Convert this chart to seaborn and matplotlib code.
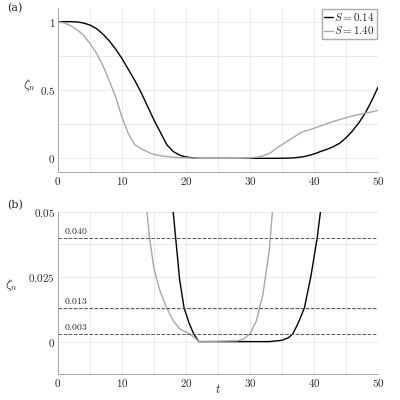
import matplotlib
matplotlib.use("Agg")
import matplotlib.pyplot as plt
import seaborn as sns
import pandas as pd

sns.set_theme(style="whitegrid")
plt.rcParams["font.family"] = "serif"
plt.rcParams["font.serif"] = ["DejaVu Serif"]
plt.rcParams["mathtext.fontset"] = "cm"

# ── data ───────────────────────────────────────────────────────────────────
t_black = [0, 2, 3, 4, 5, 6, 7, 8, 9, 10, 11, 12, 13, 14, 15, 16, 17, 18, 19, 19.7, 20.5,
           21.2, 22, 25, 30, 33, 35, 36, 36.7, 37.5, 38.5, 39.5, 40.5, 41, 42, 43, 44,
           45, 46, 47, 48, 49, 50]
z_black = [1, 1.0, 0.998, 0.99, 0.975, 0.95, 0.91, 0.86, 0.80, 0.73, 0.65, 0.57, 0.48,
           0.38, 0.28, 0.19, 0.10, 0.05, 0.024, 0.013, 0.007, 0.003, 0.0, 0.0, 0.0, 0.0,
           0.0005, 0.0015, 0.003, 0.007, 0.013, 0.025, 0.04, 0.05, 0.065, 0.085, 0.11,
           0.15, 0.2, 0.26, 0.33, 0.42, 0.52]
t_gray = [0, 1, 2, 3, 4, 5, 6, 7, 8, 9, 10, 11, 12, 13, 13.9, 14.3, 15, 16, 17, 18, 19,
          20.5, 21.5, 22, 28, 29, 30, 31, 32, 33, 33.5, 34, 35, 36, 37, 38, 40, 43, 46, 50]
z_gray = [1, 0.99, 0.97, 0.94, 0.9, 0.84, 0.77, 0.68, 0.57, 0.45, 0.3, 0.18, 0.1, 0.07,
          0.05, 0.04, 0.028, 0.019, 0.013, 0.008, 0.005, 0.003, 0.0012, 0.0, 0.0003,
          0.001, 0.003, 0.008, 0.018, 0.035, 0.05, 0.07, 0.1, 0.13, 0.16, 0.19, 0.22,
          0.27, 0.31, 0.35]
thresholds = [0.040, 0.013, 0.003]

df = pd.concat([
    pd.DataFrame({"t": t_black, "z": z_black, "S": "$S = 0.14$"}),
    pd.DataFrame({"t": t_gray, "z": z_gray, "S": "$S = 1.40$"}),
])
pal = {"$S = 0.14$": "black", "$S = 1.40$": "#a8a8a8"}

fig = plt.figure(figsize=(4, 4), dpi=100)
ax1 = fig.add_axes([0.145, 0.57, 0.80, 0.41])
ax2 = fig.add_axes([0.145, 0.065, 0.80, 0.405])

for ax in (ax1, ax2):
    sns.lineplot(data=df, x="t", y="z", hue="S", palette=pal, ax=ax, lw=1.0,
                 legend=(ax is ax1))
    ax.set_facecolor("white")
    ax.set_xlim(0, 50)
    ax.set_xticks(range(0, 51, 10))
    ax.set_xticks(range(0, 51, 5), minor=True)
    ax.grid(True, which="both", color="#e6e6e6", lw=0.6)
    for s in ax.spines.values():
        s.set_color("#999999"); s.set_linewidth(0.6)
    ax.spines["top"].set_visible(False)
    ax.spines["right"].set_visible(False)
    ax.tick_params(labelsize=8, pad=2, length=0)
    ax.set_xticklabels([f"${v}$" for v in range(0, 51, 10)])

ax1.set_ylim(-0.1, 1.1)
ax1.set_yticks([0, 0.5, 1])
ax1.set_yticks([0.25, 0.75], minor=True)
ax1.set_yticklabels(["$0$", "$0.5$", "$1$"])
ax1.set_xlabel("")
ax1.set_ylabel(r"$\zeta_n$", rotation=0, fontsize=9, labelpad=0)
ax1.yaxis.set_label_coords(-0.09, 0.48)
ax1.legend(title=None, loc="upper right", fontsize=8, handlelength=0.8,
           handletextpad=0.1, borderpad=0.2, labelspacing=0.1, fancybox=False,
           framealpha=1, edgecolor="#aaaaaa", borderaxespad=0.1)
ax1.text(-0.16, 1.0, "(a)", transform=ax1.transAxes, fontsize=8, va="center")

ax2.set_ylim(-0.01, 0.05)
ax2.set_yticks([0, 0.025, 0.05])
ax2.set_yticks([-0.0125, 0.0125, 0.0375], minor=True)
ax2.set_yticklabels(["$0$", "$0.025$", "$0.05$"])
ax2.set_xlabel("$t$", fontsize=9, labelpad=-4)
ax2.set_ylabel(r"$\zeta_n$", rotation=0, fontsize=9, labelpad=0)
ax2.yaxis.set_label_coords(-0.145, 0.5)
for h in thresholds:
    ax2.axhline(h, color="#555555", ls="--", lw=0.7)
    ax2.text(1, h + 0.0008, f"${h:.3f}$", fontsize=7, va="bottom")
ax2.text(-0.16, 1.04, "(b)", transform=ax2.transAxes, fontsize=8, va="center")

fig.savefig("out.png", dpi=100)
